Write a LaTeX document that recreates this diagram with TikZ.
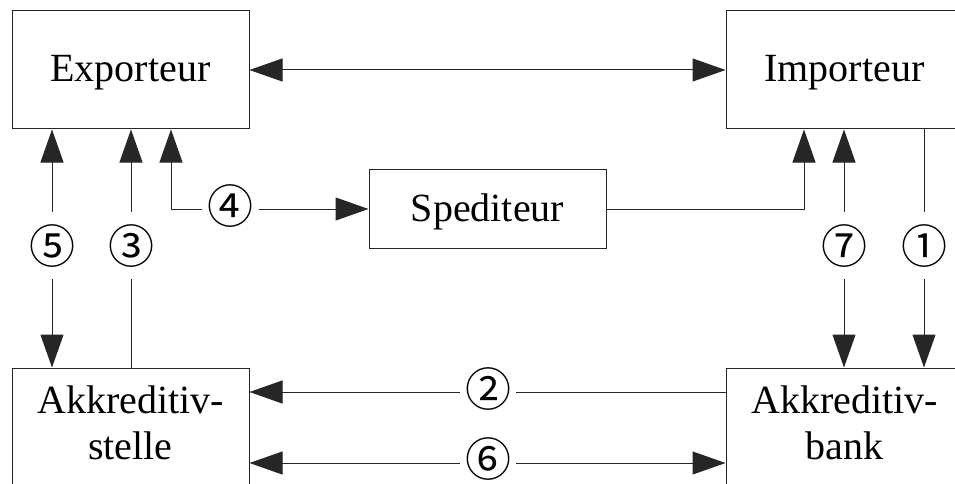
\documentclass[tikz,border=0pt]{standalone}
\usepackage{fontspec}
\setmainfont{Liberation Serif}
\newfontfamily\circfont{Noto Sans CJK SC}
\usetikzlibrary{arrows.meta}
\begin{document}
\begin{tikzpicture}[x=1pt,y=-1pt,
  box/.style={draw=black!85,line width=1pt,rectangle,inner sep=0pt},
  bigbox/.style={box,minimum width=237pt,minimum height=118pt},
  txt/.style={inner sep=0pt,font=\fontsize{40}{46}\selectfont,align=center},
  numh/.style={inner sep=0pt,text width=56pt,align=center,text height=35pt,text depth=0pt,font=\circfont\fontsize{46}{48}\selectfont},
  numv/.style={numh,minimum height=67pt},
  conn/.style={line width=1pt,draw=black!85},
  tip/.style={-{Triangle[length=33pt,width=23pt]}},
  both/.style={{Triangle[length=33pt,width=23pt]}-{Triangle[length=33pt,width=23pt]}}]
\useasboundingbox (0,0) rectangle (955,484);
\clip (0,0) rectangle (955,484);
% boxes
\node[bigbox] (exp) at (130.5,70) {};
\node[bigbox] (imp) at (844.5,70) {};
\node[box,minimum width=237pt,minimum height=79pt] (sped) at (487.5,208.5) {};
\node[box,minimum width=237pt,minimum height=140pt] (stelle) at (130.5,438) {};
\node[box,minimum width=237pt,minimum height=140pt] (bank) at (844.5,438) {};
% texts
\node[txt,anchor=base] (exptext) at (130.5,82) {Exporteur};
\node[txt,anchor=base] (imptext) at (844.5,82) {Importeur};
\node[txt,anchor=base] (spedtext) at (487.5,221) {Spediteur};
\node[txt] (stelletext) at (130.5,423) {Akkreditiv-\\stelle};
\node[txt] (banktext) at (844.5,423) {Akkreditiv-\\bank};
% number labels
\node[numv] (l5) at (52,245.5) {⑤};
\node[numv] (l3) at (131,245.5) {③};
\node[numh] (l4) at (230.5,205.5) {④};
\node[numv] (l7) at (844,245.5) {⑦};
\node[numv] (l1) at (924,245.5) {①};
\node[numh] (l2) at (488,388.5) {②};
\node[numh] (l6) at (488,458.5) {⑥};
% line levels
\coordinate (y4) at (0,209);
\coordinate (y2) at (0,392);
\coordinate (y6) at (0,463);
\coordinate (c4) at (171,0);
\coordinate (c8) at (804,0);
% connectors
\draw[conn,both] (exp.east) -- (imp.west);
\draw[conn,tip] (l5) -- (l5 |- exp.south);
\draw[conn,tip] (l5) -- (l5 |- stelle.north);
\draw[conn] (stelle.north -| l3) -- (l3);
\draw[conn,tip] (l3) -- (l3 |- exp.south);
\draw[conn,tip] (l4.west |- y4) -| (c4 |- exp.south);
\draw[conn,tip] (l4.east |- y4) -- (sped.west |- y4);
\draw[conn,tip] (sped.east |- y4) -| (c8 |- imp.south);
\draw[conn,tip] (l7) -- (l7 |- imp.south);
\draw[conn,tip] (l7) -- (l7 |- bank.north);
\draw[conn] (imp.south -| l1) -- (l1);
\draw[conn,tip] (l1) -- (l1 |- bank.north);
\draw[conn] (bank.west |- y2) -- (l2.east |- y2);
\draw[conn,tip] (l2.west |- y2) -- (stelle.east |- y2);
\draw[conn,tip] (l6.west |- y6) -- (stelle.east |- y6);
\draw[conn,tip] (l6.east |- y6) -- (bank.west |- y6);
\end{tikzpicture}
\end{document}
